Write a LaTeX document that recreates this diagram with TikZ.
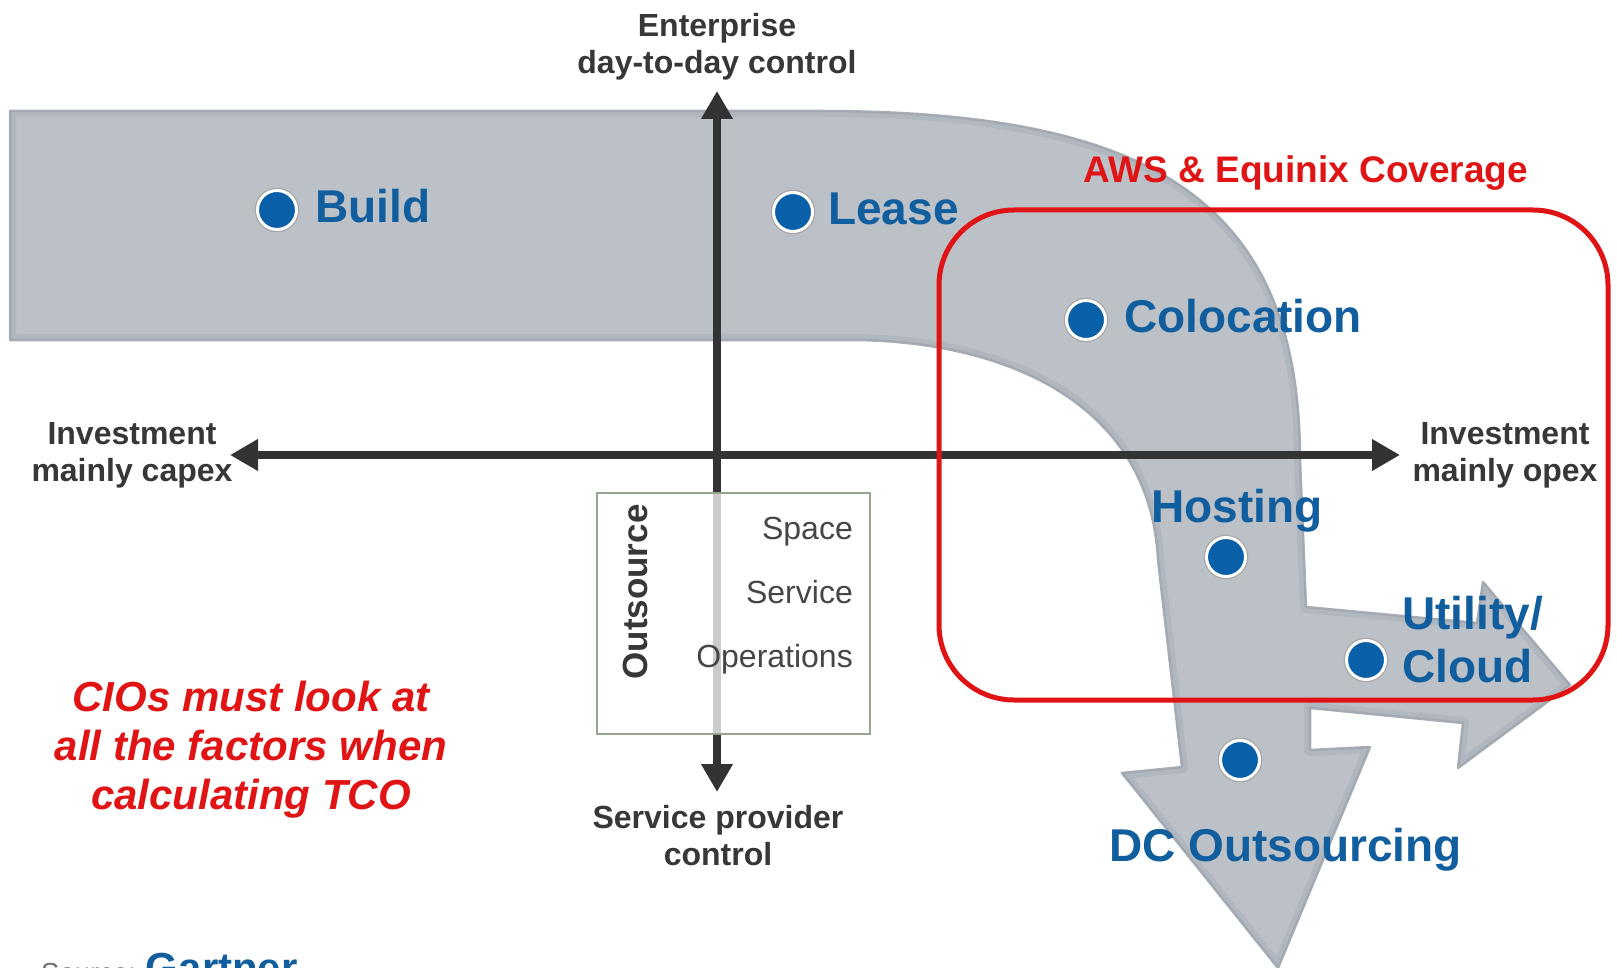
\documentclass[tikz,border=0pt]{standalone}
\usepackage{fontspec}
\setmainfont{Liberation Sans}
\usetikzlibrary{arrows.meta}
\definecolor{arrowgray}{RGB}{188,193,200}
\definecolor{arrowedge}{RGB}{168,174,182}
\definecolor{arrowshade}{RGB}{140,148,158}
\definecolor{axisgray}{RGB}{51,51,51}
\definecolor{labelblue}{RGB}{17,94,158}
\definecolor{dotblue}{RGB}{10,96,168}
\definecolor{cvred}{RGB}{224,20,20}
\definecolor{txtgray}{RGB}{55,55,55}
\definecolor{boxtxt}{RGB}{70,70,70}
\definecolor{boxedge}{RGB}{150,165,145}
\definecolor{srcgray}{RGB}{110,110,110}
\tikzset{
  grayarrow/.style={fill=arrowgray, draw=arrowedge, line width=2.5pt, line join=round},
  arrowinner/.style={draw=arrowshade, line width=12pt, draw opacity=0.22, line join=round},
  axisline/.style={line width=8pt, draw=axisgray,
    arrows={Triangle[length=28pt,width=30pt]-Triangle[length=28pt,width=30pt]}},
  axislabel/.style={inner sep=0pt, align=center, text=txtgray,
    font=\fontsize{32}{37}\selectfont\bfseries},
  dot/.style={circle, inner sep=0pt, minimum size=39pt, fill=dotblue, draw=white,
    line width=3pt, preaction={draw=black!35, line width=5.5pt}},
  bluelabel/.style={inner sep=0pt, text=labelblue, font=\fontsize{46}{53}\selectfont\bfseries},
  redbox/.style={draw=cvred, line width=5pt, rounded corners=75pt},
  outbox/.style={draw=boxedge, line width=1.5pt, fill=white, fill opacity=0.75},
  boxtext/.style={inner sep=0pt, text=boxtxt, font=\fontsize{32}{64}\selectfont}
}
\begin{document}
\begin{tikzpicture}[x=1pt,y=-1pt]
\useasboundingbox (0,0) rectangle (1617,968);
\clip (0,0) rectangle (1617,968);

% big bent arrow
\path[grayarrow] (10,111) -- (820,111)
  .. controls (1150,111) and (1300,200) .. (1300,460)
  -- (1306,607) -- (1477,623) -- (1483,582) -- (1570,685) -- (1458,768)
  -- (1463,723) -- (1310,708) -- (1310,750) -- (1370,747) -- (1278,968)
  -- (1122,773) -- (1182,767) -- (1158,560)
  .. controls (1150,400) and (1000,340) .. (850,340)
  -- (10,340) -- cycle;
\begin{scope}
\clip (10,111) -- (820,111)
  .. controls (1150,111) and (1300,200) .. (1300,460)
  -- (1306,607) -- (1477,623) -- (1483,582) -- (1570,685) -- (1458,768)
  -- (1463,723) -- (1310,708) -- (1310,750) -- (1370,747) -- (1278,968)
  -- (1122,773) -- (1182,767) -- (1158,560)
  .. controls (1150,400) and (1000,340) .. (850,340)
  -- (10,340) -- cycle;
\path[arrowinner] (10,111) -- (820,111)
  .. controls (1150,111) and (1300,200) .. (1300,460)
  -- (1306,607) -- (1477,623) -- (1483,582) -- (1570,685) -- (1458,768)
  -- (1463,723) -- (1310,708) -- (1310,750) -- (1370,747) -- (1278,968)
  -- (1122,773) -- (1182,767) -- (1158,560)
  .. controls (1150,400) and (1000,340) .. (850,340)
  -- (10,340) -- cycle;
\end{scope}

% axes
\coordinate (xleft) at (230,455);
\coordinate (xright) at (1400,455);
\coordinate (ytop) at (717,91);
\coordinate (ybot) at (717,792);
\draw[axisline] (xleft) -- (xright);
\draw[axisline] (ybot) -- (ytop);

% outsource box
\coordinate (boxnw) at (597,493);
\coordinate (boxse) at (870,734);
\path[outbox] (boxnw) rectangle (boxse);
\node[boxtext, align=right, anchor=north east] (boxitems) at (853,517) {Space\\Service\\Operations};
\node[inner sep=0pt, rotate=90, text=txtgray, font=\fontsize{35}{40}\selectfont\bfseries] (outsource) at (635,592) {Outsource};

% axis labels
\node[axislabel, anchor=north] (enterprise) at (717,13) {Enterprise\\day-to-day control};
\node[axislabel, anchor=north] (spctrl) at (718,805) {Service provider\\control};
\node[axislabel, anchor=north] (capex) at (132,422) {Investment\\mainly capex};
\node[axislabel, anchor=north] (opex) at (1505,422) {Investment\\mainly opex};

% coverage box
\coordinate (covnw) at (939,210);
\coordinate (covse) at (1608,700);
\draw[redbox] (covnw) rectangle (covse);
\node[inner sep=0pt, anchor=base, text=cvred, font=\fontsize{37}{40}\selectfont\bfseries] (aws) at (1306,183) {AWS \& Equinix Coverage};

% dots and labels
\node[dot] (dbuild) at (277,210) {};
\node[bluelabel, anchor=base west] (lbuild) at (315,223) {Build};
\node[dot] (dlease) at (793,212) {};
\node[bluelabel, anchor=base west] (llease) at (828,225) {Lease};
\node[dot] (dcolo) at (1086,320) {};
\node[bluelabel, anchor=base west] (lcolo) at (1124,332) {Colocation};
\node[dot] (dhost) at (1226,557) {};
\node[bluelabel, anchor=base west] (lhost) at (1151,522) {Hosting};
\node[dot] (dcloud) at (1366,660) {};
\node[bluelabel, anchor=north west, align=left] (lcloud) at (1402,596) {Utility/\\Cloud};
\node[dot] (ddc) at (1240,760) {};
\node[bluelabel, anchor=base west] (ldc) at (1109,861) {DC Outsourcing};

% note
\node[inner sep=0pt, anchor=north, align=center, text=cvred,
  font=\fontsize{42}{49}\selectfont\bfseries\itshape] (cio) at (251,681)
  {CIOs must look at\\all the factors when\\calculating TCO};

% source
\node[inner sep=0pt, anchor=base west] (source) at (41,982)
  {\textcolor{srcgray}{\fontsize{27.5}{30}\selectfont Source:}\hspace{10pt}\textcolor{labelblue}{\fontsize{42}{46}\selectfont\bfseries Gartner}};
\end{tikzpicture}
\end{document}
